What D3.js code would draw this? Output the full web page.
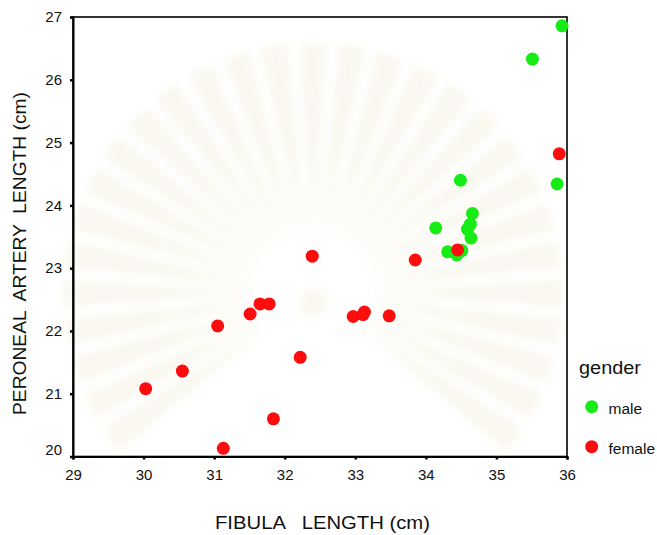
<!DOCTYPE html>
<html>
<head>
<meta charset="utf-8">
<script src="https://cdn.jsdelivr.net/npm/d3@7"></script>
<style>
  html, body { margin: 0; padding: 0; background: #fff; }
  svg { display: block; font-family: "Liberation Sans", Arial, sans-serif; }
</style>
</head>
<body>
<svg id="chart" width="657" height="535"></svg>
<script>
// Fibula length (cm) vs peroneal artery length (cm), by gender
const maleFibula   = [35.93, 35.51, 35.86, 34.49, 34.66, 34.14, 34.63, 34.59, 34.64, 34.31, 34.51, 34.44];
const maleArtery   = [26.86, 26.33, 24.34, 24.40, 23.87, 23.64, 23.70, 23.62, 23.48, 23.26, 23.28, 23.21];
const femaleFibula = [35.89, 34.45, 33.85, 32.39, 31.65, 31.78, 31.51, 32.97, 33.13, 33.11, 33.48, 32.22, 31.05, 30.03, 30.55, 31.84, 31.13];
const femaleArtery = [24.82, 23.29, 23.13, 23.19, 22.43, 22.43, 22.27, 22.23, 22.30, 22.26, 22.24, 21.58, 22.08, 21.08, 21.36, 20.60, 20.13];
const xTicks = [29, 30, 31, 32, 33, 34, 35, 36];
const yTicks = [20, 21, 22, 23, 24, 25, 26, 27];
const groups = ["male", "female"];
const groupColors = ["#12f012", "#ff1010"];
const stripeColors = ["#28dc28", "#f20000"];

const svg = d3.select("#chart");
const x = d3.scaleLinear().domain([29, 36]).range([73, 567]);
const y = d3.scaleLinear().domain([20, 27]).range([456.5, 17]);

const defs = svg.append("defs");
defs.append("filter").attr("id", "soft").append("feGaussianBlur").attr("stdDeviation", 4);
groups.forEach((g, i) => {
  const p = defs.append("pattern").attr("id", "pat-" + g)
    .attr("patternUnits", "userSpaceOnUse").attr("width", 3).attr("height", 4);
  p.append("rect").attr("width", 3).attr("height", 4).attr("fill", groupColors[i]);
  p.append("path").attr("d", "M1,0 L1.6,2 L1,4").attr("stroke", stripeColors[i])
    .attr("stroke-width", 0.6).attr("fill", "none");
});

// faint emblem in the background
const emblem = svg.append("g").attr("filter", "url(#soft)").attr("opacity", 0.28);
const cx = 313, cy = 293;
const rayAngles = d3.range(-216, 40, 9);
emblem.selectAll("path.ray").data(rayAngles).join("path")
  .attr("class", "ray")
  .attr("d", a => {
    const r0 = 60, r1 = 250, w = 3.2;
    const p = (ang, r) => [cx + r * Math.cos(ang * Math.PI / 180), cy + r * Math.sin(ang * Math.PI / 180)];
    const a0 = p(a - 1, r0), a1 = p(a - w, r1), a2 = p(a + w, r1), a3 = p(a + 1, r0);
    return `M${a0}L${a1}L${a2}L${a3}Z`;
  })
  .attr("fill", "#ece5c8");
emblem.append("circle").attr("cx", cx).attr("cy", cy).attr("r", 55).attr("fill", "#ffffff");
emblem.append("circle").attr("cx", cx).attr("cy", cy + 10).attr("r", 14).attr("fill", "#ece5c8");

// frame
svg.append("rect").attr("x", x(29)).attr("y", y(27))
  .attr("width", x(36) - x(29)).attr("height", y(20) - y(27))
  .attr("fill", "none").attr("stroke", "#000").attr("stroke-width", 1.6);

// axes
const fmt = d3.format("d");
const xAxis = svg.append("g").attr("transform", `translate(0,${y(20)})`)
  .call(d3.axisBottom(x).tickValues(xTicks).tickFormat(fmt).tickSize(3).tickPadding(6));
const yAxis = svg.append("g").attr("transform", `translate(${x(29)},0)`)
  .call(d3.axisLeft(y).tickValues(yTicks).tickFormat(fmt).tickSize(3).tickPadding(8));
[xAxis, yAxis].forEach(ax => {
  ax.select(".domain").attr("stroke", "#000").attr("stroke-width", 2);
  ax.selectAll(".tick line").attr("stroke", "#000").attr("stroke-width", 2.5);
  ax.selectAll(".tick text").attr("fill", "#111").attr("font-size", 15)
    .attr("font-family", "\"Liberation Sans\", Arial, sans-serif");
});
xAxis.selectAll(".tick text").attr("dy", "0.95em");
yAxis.selectAll(".tick text").filter(d => d === 20).attr("dy", "-0.15em");

// points
const pts = [];
maleFibula.forEach((v, i) => pts.push({ g: 0, fx: v, ay: maleArtery[i] }));
femaleFibula.forEach((v, i) => pts.push({ g: 1, fx: v, ay: femaleArtery[i] }));
svg.append("g").selectAll("circle").data(pts).join("circle")
  .attr("cx", d => x(d.fx)).attr("cy", d => y(d.ay)).attr("r", 6.5)
  .attr("fill", d => `url(#pat-${groups[d.g]})`);

// axis titles
svg.append("text").attr("x", 215).attr("y", 529)
  .attr("font-size", 19).attr("fill", "#111")
  .attr("textLength", 215).attr("lengthAdjust", "spacingAndGlyphs")
  .style("white-space", "pre")
  .text("FIBULA   LENGTH (cm)");
svg.append("text").attr("transform", "translate(26,415) rotate(-90)")
  .attr("font-size", 18.7).attr("fill", "#111")
  .attr("textLength", 323).attr("lengthAdjust", "spacingAndGlyphs")
  .style("white-space", "pre")
  .text("PERONEAL  ARTERY  LENGTH (cm)");

// legend
const legend = svg.append("g");
legend.append("text").attr("x", 579).attr("y", 374).attr("font-size", 18)
  .attr("textLength", 62).attr("lengthAdjust", "spacingAndGlyphs")
  .attr("fill", "#111").text("gender");
groups.forEach((g, i) => {
  const ly = 406.7 + i * 40;
  legend.append("circle").attr("cx", 591.7).attr("cy", ly).attr("r", 6.5)
    .attr("fill", `url(#pat-${g})`);
  legend.append("text").attr("x", 608.5).attr("y", ly + 7).attr("font-size", 15.5)
    .attr("fill", "#111").text(g);
});
</script>
</body>
</html>
